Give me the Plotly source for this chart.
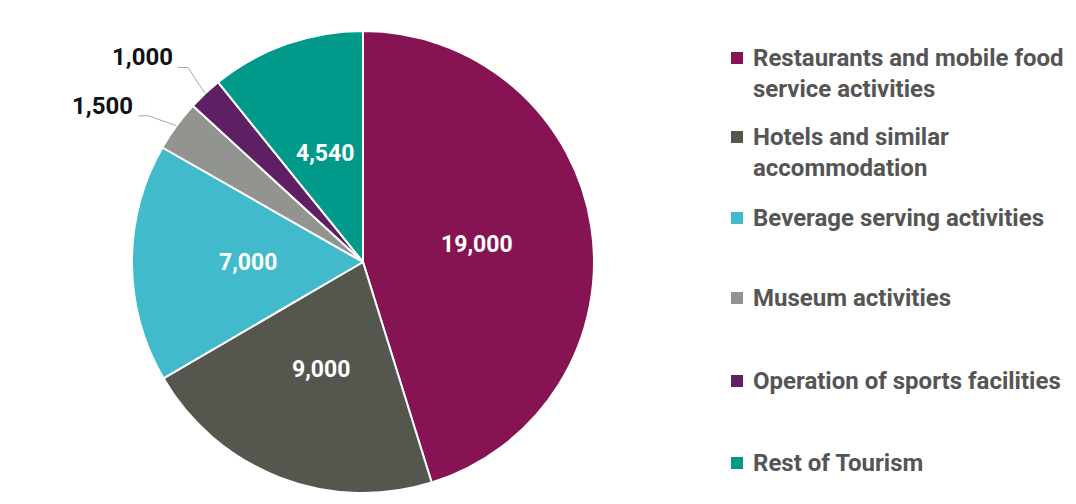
import numpy as np
import plotly.graph_objects as go

# Employment by tourism sub-sector
categories = [
    "Restaurants and mobile food<br>service activities",
    "Hotels and similar<br>accommodation",
    "Beverage serving activities",
    "Museum activities",
    "Operation of sports facilities",
    "Rest of Tourism",
]
values = [19000, 9000, 7000, 1500, 1000, 4540]
colors = ["#861453", "#55574F", "#41BACB", "#92948F", "#5E2063", "#00998A"]

# which slices carry their value outside with a leader line
outside = [False, False, False, True, True, False]
# leader-line elbow offset (px) from the slice edge, for outside labels
elbow_offset = {3: (-28, -10), 4: (-17, -26)}
# first-line centre (px from top) of each legend entry
legend_rows = [58, 137, 218, 298, 381, 463]

W, H = 1076, 504
CX, CY, R = 363, 262, 231  # pie centre and radius in px


def px(x):
    return x / W


def py(y):
    return 1 - y / H


fig = go.Figure(
    go.Pie(
        labels=categories,
        values=values,
        sort=False,
        direction="clockwise",
        rotation=0,
        marker=dict(colors=colors, line=dict(color="#FFFFFF", width=2)),
        textinfo="none",
        domain=dict(x=[px(CX - R), px(CX + R)], y=[py(CY + R), py(CY - R)]),
        hoverinfo="label+value",
        showlegend=False,
    )
)

annotations = []
shapes = []

# value labels, placed along each slice's mid-angle
vals = np.array(values, dtype=float)
cum = np.cumsum(vals) - vals / 2
mid = cum / vals.sum() * 2 * np.pi  # clockwise from 12 o'clock
for i, (v, a) in enumerate(zip(values, mid)):
    s, c = np.sin(a), np.cos(a)
    if not outside[i]:
        annotations.append(dict(
            x=px(CX + 0.5 * R * s), y=py(CY - 0.5 * R * c),
            xref="paper", yref="paper", showarrow=False,
            xanchor="center", yanchor="middle",
            text=f"{v:,}",
            font=dict(family="Roboto", size=23, color="#FFFFFF", weight="bold"),
        ))
    else:
        ex, ey = CX + R * s, CY - R * c
        dx, dy = elbow_offset[i]
        bx, by = ex + dx, ey + dy
        shapes.append(dict(
            type="path", xref="paper", yref="paper",
            path=f"M{px(ex)},{py(ey)} L{px(bx)},{py(by)} L{px(bx - 10)},{py(by)}",
            line=dict(color="#A8A8A8", width=1),
        ))
        annotations.append(dict(
            x=px(bx - 13), y=py(by + 6),
            xref="paper", yref="paper", showarrow=False,
            xanchor="right", yanchor="bottom",
            text=f"{v:,}",
            font=dict(family="Roboto", size=24, color="#111111", weight="bold"),
        ))

# legend: coloured square + label
LINE = 1.3 * 24
for name, col, row in zip(categories, colors, legend_rows):
    n = name.count("<br>") + 1
    yc = row + (n - 1) * LINE / 2
    shapes.append(dict(
        type="rect", xref="paper", yref="paper",
        x0=px(731), x1=px(743), y0=py(row + 6), y1=py(row - 6),
        fillcolor=col, line=dict(width=0),
    ))
    annotations.append(dict(
        x=px(751), y=py(yc), xref="paper", yref="paper",
        xanchor="left", yanchor="middle", align="left", showarrow=False,
        text=name,
        font=dict(family="Roboto", size=24, color="#555555", weight="bold"),
    ))

fig.update_layout(
    width=W,
    height=H,
    margin=dict(l=0, r=0, t=0, b=0),
    paper_bgcolor="#FFFFFF",
    annotations=annotations,
    shapes=shapes,
)

fig.write_html("out.html")
